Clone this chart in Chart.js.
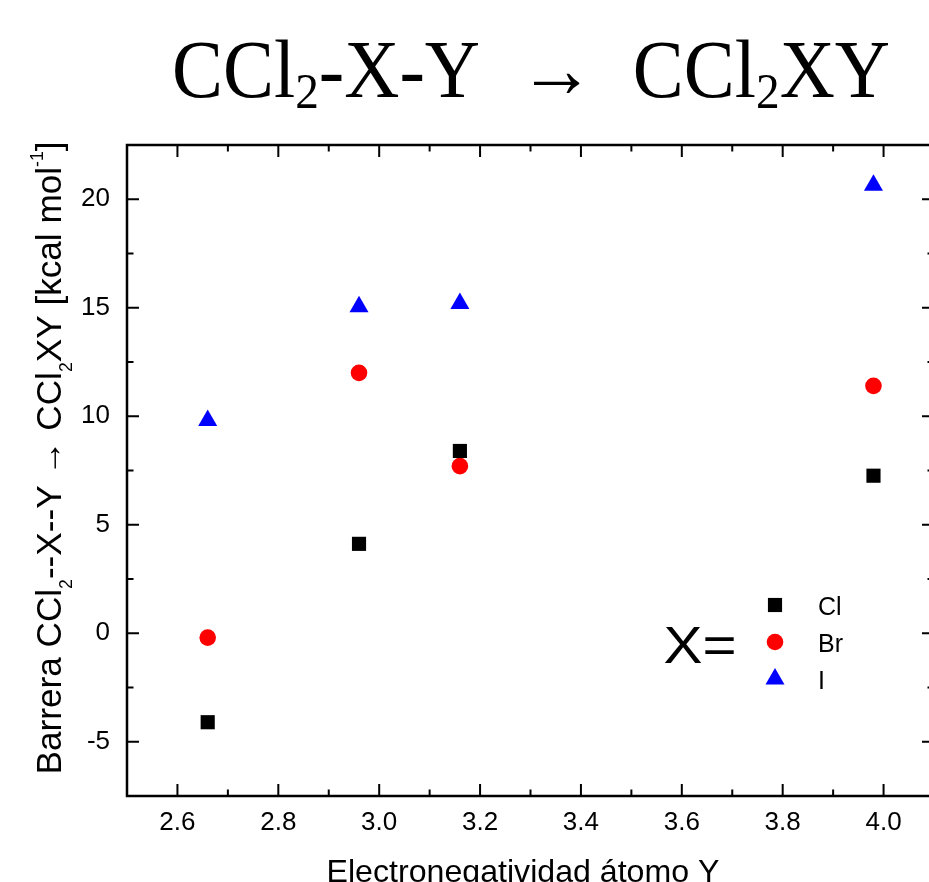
<!DOCTYPE html>
<html>
<head>
<meta charset="utf-8">
<script src="https://cdn.jsdelivr.net/npm/chart.js@4.4.0/dist/chart.umd.min.js"></script>
<style>
html, body { margin: 0; padding: 0; background: #fff; overflow: hidden; }
#wrap { width: 945px; height: 882px; }
</style>
</head>
<body>
<div id="wrap"><canvas id="chart" width="945" height="882"></canvas></div>
<script>

// ======================
// DATA
// ======================

const electronegY = [2.66, 2.96, 3.16, 3.98];

const barrierCl = [-4.1, 4.12, 8.4, 7.26];
const barrierBr = [-0.2, 12.0, 7.7, 11.4];
const barrierI = [9.8, 15.05, 15.2, 20.65];

const seriesNames = ["Cl", "Br", "I"];

const xTicks = [2.6, 2.8, 3.0, 3.2, 3.4, 3.6, 3.8, 4.0];
const xMinorTicks = [2.7, 2.9, 3.1, 3.3, 3.5, 3.7, 3.9];
const yTicks = [-5, 0, 5, 10, 15, 20];
const yMinorTicks = [-2.5, 2.5, 7.5, 12.5, 17.5];


// ======================
// HELPERS
// ======================

const SANS = "'Liberation Sans', Arial, sans-serif";
const SERIF = "'Liberation Serif', 'DejaVu Serif', serif";

function toPoints(ys) {
    return electronegY.map((x, i) => ({ x: x, y: ys[i] }));
}

// segments: [text, size factor, baseline shift in em of main size]
function richWidth(ctx, segs, size, family) {
    let w = 0;
    segs.forEach(s => {
        ctx.font = (size * s[1]) + "px " + family;
        w += ctx.measureText(s[0]).width;
    });
    return w;
}

function drawRich(ctx, segs, cx, y, size, family, targetWidth) {
    const w = richWidth(ctx, segs, size, family);
    ctx.save();
    ctx.translate(cx, y);
    if (targetWidth) ctx.scale(targetWidth / w, 1);
    let x = -w / 2;
    ctx.textBaseline = "alphabetic";
    ctx.textAlign = "left";
    ctx.fillStyle = "#000";
    segs.forEach(s => {
        ctx.font = (size * s[1]) + "px " + family;
        ctx.fillText(s[0], x, s[2] * size);
        x += ctx.measureText(s[0]).width;
    });
    ctx.restore();
}

function legendMarker(ctx, style, color, radius, x, y) {
    ctx.save();
    ctx.fillStyle = color;
    if (Chart.helpers && Chart.helpers.drawPoint) {
        Chart.helpers.drawPoint(ctx, { pointStyle: style, radius: radius, borderWidth: 0, rotation: 0 }, x, y);
    } else {
        ctx.beginPath();
        ctx.arc(x, y, radius, 0, Math.PI * 2);
        ctx.fill();
    }
    ctx.restore();
}


// ======================
// FRAME, TICKS, TEXT
// ======================

const decorations = {
    id: "decorations",
    afterDraw(chart) {
        const ctx = chart.ctx;
        const a = chart.chartArea;
        const xs = chart.scales.x;
        const ys = chart.scales.y;

        ctx.save();
        ctx.strokeStyle = "#000";

        // inward ticks on all four sides
        ctx.lineWidth = 2;
        const tick = (vals, len) => {
            vals.forEach(v => {
                const px = xs.getPixelForValue(v);
                ctx.beginPath();
                ctx.moveTo(px, a.bottom); ctx.lineTo(px, a.bottom - len);
                ctx.moveTo(px, a.top); ctx.lineTo(px, a.top + len);
                ctx.stroke();
            });
        };
        const tickY = (vals, len) => {
            vals.forEach(v => {
                const py = ys.getPixelForValue(v);
                ctx.beginPath();
                ctx.moveTo(a.left, py); ctx.lineTo(a.left + len, py);
                ctx.moveTo(a.right, py); ctx.lineTo(a.right - len, py);
                ctx.stroke();
            });
        };
        tick(xTicks, 12);
        tick(xMinorTicks, 6.5);
        tickY(yTicks, 12);
        tickY(yMinorTicks, 6.5);

        // frame
        ctx.lineWidth = 2.5;
        ctx.strokeRect(a.left, a.top, a.right - a.left, a.bottom - a.top);
        ctx.restore();

        // title
        drawRich(ctx, [
            ["CCl", 1, 0], ["2", 0.62, 0.14], ["-X-Y\u2002\u2192\u2002CCl", 1, 0],
            ["2", 0.62, 0.14], ["XY", 1, 0]
        ], 531, 97, 82, SERIF, 718);

        // y axis title
        ctx.save();
        ctx.translate(61, 458);
        ctx.rotate(-Math.PI / 2);
        drawRich(ctx, [
            ["Barrera CCl", 1, 0], ["2", 0.5, 0.3], ["--X--Y \u2192 CCl", 1, 0],
            ["2", 0.5, 0.3], ["XY [kcal mol", 1, 0], ["-1", 0.5, -0.52], ["]", 1, 0]
        ], 0, 0, 35, SANS, 633);
        ctx.restore();

        // x axis title
        drawRich(ctx, [["Electronegatividad \u00e1tomo Y", 1, 0]], 523, 882, 32, SANS, 393);

        // legend
        drawRich(ctx, [["X=", 1, 0]], 700, 663, 51, SANS, 73);
        ctx.save();
        ctx.fillStyle = "#000";
        ctx.textBaseline = "alphabetic";
        ctx.textAlign = "left";
        ctx.font = "25px " + SANS;
        const styles = chart.data.datasets;
        const rowY = [605, 642, 679];
        styles.forEach((ds, i) => {
            legendMarker(ctx, ds.pointStyle, ds.backgroundColor, ds.pointRadius, 775, rowY[i]);
            ctx.fillStyle = "#000";
            ctx.fillText(seriesNames[i], 818, rowY[i] + 9.5);
        });
        ctx.restore();
    }
};


// ======================
// SCATTER CHART
// ======================

new Chart(
    document.getElementById("chart"),
    {
        type: "scatter",

        data: {
            datasets: [
                {
                    label: seriesNames[0],
                    data: toPoints(barrierCl),
                    pointStyle: "rect",
                    pointRadius: 10,
                    borderWidth: 0,
                    backgroundColor: "#000000"
                },
                {
                    label: seriesNames[1],
                    data: toPoints(barrierBr),
                    pointStyle: "circle",
                    pointRadius: 8.3,
                    borderWidth: 0,
                    backgroundColor: "#ff0000"
                },
                {
                    label: seriesNames[2],
                    data: toPoints(barrierI),
                    pointStyle: "triangle",
                    pointRadius: 11,
                    borderWidth: 0,
                    backgroundColor: "#0000ff"
                }
            ]
        },

        options: {
            responsive: false,
            animation: false,
            events: [],
            layout: { padding: { top: 145, right: 11, left: 0, bottom: 0 } },
            plugins: {
                legend: { display: false },
                tooltip: { enabled: false }
            },
            scales: {
                x: {
                    type: "linear",
                    min: 2.5,
                    max: 4.1,
                    afterBuildTicks: s => { s.ticks = xTicks.map(v => ({ value: v })); },
                    afterFit: s => { s.height = 86; },
                    grid: { display: false, drawTicks: false },
                    border: { display: false },
                    ticks: {
                        padding: 11,
                        color: "#000",
                        font: { family: SANS, size: 26 },
                        callback: v => v.toFixed(1),
                        maxRotation: 0,
                        autoSkip: false
                    }
                },
                y: {
                    type: "linear",
                    min: -7.5,
                    max: 22.5,
                    afterBuildTicks: s => { s.ticks = yTicks.map(v => ({ value: v })); },
                    afterFit: s => { s.width = 127; },
                    grid: { display: false, drawTicks: false },
                    border: { display: false },
                    ticks: {
                        padding: 17,
                        color: "#000",
                        font: { family: SANS, size: 26 },
                        callback: v => String(v),
                        autoSkip: false
                    }
                }
            }
        },

        plugins: [decorations]
    }
);

</script>
</body>
</html>
